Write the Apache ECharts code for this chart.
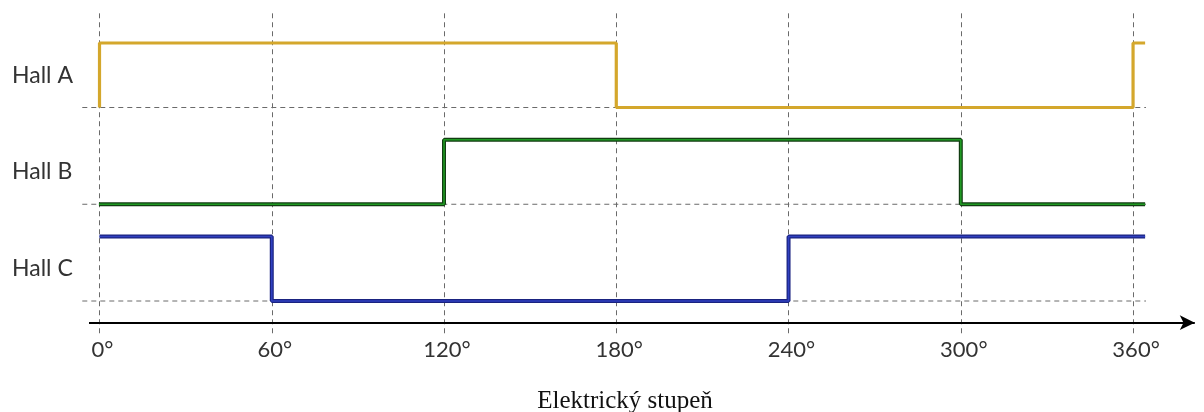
<!DOCTYPE html>
<html>
<head>
<meta charset="utf-8">
<script src="https://cdn.jsdelivr.net/npm/echarts@6/dist/echarts.min.js"></script>
<style>html,body{margin:0;padding:0;background:#fff;}#c{width:1204px;height:412px;}</style>
</head>
<body>
<div id="c"></div>
<script>
// Degree ticks and labels
const angles = [0, 60, 120, 180, 240, 300, 360];
const tickLabels = ['0°', '60°', '120°', '180°', '240°', '300°', '360°'];
const signalNames = ['Hall A', 'Hall B', 'Hall C'];
// logical level of each signal (low, high)
const levelA = [3, 4];
const levelB = [1.5, 2.5];
const levelC = [0, 1];
// step waveforms [degree, level]
const hallA = [[0, 3], [0, 4], [180, 4], [180, 3], [360, 3], [360, 4], [364.2, 4]];
const hallB = [[-0.2, 1.5], [120, 1.5], [120, 2.5], [300, 2.5], [300, 1.5], [364.2, 1.5]];
const hallC = [[0, 1], [60, 1], [60, 0], [240, 0], [240, 1], [364.2, 1]];
const labelLevels = [3.5, 2, 0.5];
const axisLevel = -0.336;
const xTitle = 'Elektrický stupeň';

const grey = '#6a6a6a';
const dashed = {type: [5, 4], color: grey, width: 1};

function refLine(lv) {
  return {
    type: 'line', data: [[-6, lv], [364.5, lv]], symbol: 'none', silent: true,
    lineStyle: dashed, z: 1, animation: false
  };
}

const vLines = angles.map((a, i) => [
  {coord: [a, -0.5], name: tickLabels[i]},
  {coord: [a, 4.46]}
]);

const chart = echarts.init(document.getElementById('c'), null, {renderer: 'canvas'});
chart.setOption({
  animation: false,
  backgroundColor: '#fff',
  title: {
    text: xTitle, left: 620, top: 384, textAlign: 'center',
    textStyle: {fontFamily: 'Liberation Serif', fontSize: 25, fontWeight: 'normal', color: '#111'}
  },
  grid: {left: 70.8, right: 2.04, top: 10.75, bottom: 78.75},
  xAxis: {
    type: 'value', min: -10, max: 384,
    axisLine: {show: false}, axisTick: {show: false}, axisLabel: {show: false}, splitLine: {show: false}
  },
  yAxis: {
    type: 'value', min: -0.5, max: 4.5, interval: 0.25,
    axisLine: {show: false}, axisTick: {show: false}, splitLine: {show: false},
    axisLabel: {
      show: true, align: 'left', margin: 58.8,
      fontFamily: 'Lato', fontSize: 23, color: '#333',
      formatter: function (v) {
        const i = labelLevels.findIndex(l => Math.abs(l - v) < 1e-6);
        return i >= 0 ? signalNames[i] : '';
      }
    }
  },
  series: [
    {
      type: 'line', data: [], symbol: 'none', z: 1,
      markLine: {
        silent: true, symbol: 'none', animation: false,
        lineStyle: dashed,
        label: {
          show: true, position: 'start', formatter: '{b}', distance: 6,
          fontFamily: 'Lato', fontSize: 22, color: '#333', offset: [3, 0]
        },
        data: vLines
      }
    },
    refLine(levelA[0]), refLine(levelB[0]), refLine(levelC[0]),
    {
      type: 'line', data: [], symbol: 'none', z: 2,
      markLine: {
        silent: true, symbol: ['none', 'arrow'], symbolSize: [11, 15], animation: false,
        lineStyle: {type: 'solid', color: '#000', width: 2},
        label: {show: false},
        data: [[{coord: [-3.66, axisLevel]}, {coord: [381.5, axisLevel]}]]
      }
    },
    {type: 'line', name: signalNames[0], data: hallA, symbol: 'none', z: 5,
      lineStyle: {color: '#d4a72c', width: 3.2}},
    {type: 'line', data: hallB, symbol: 'none', z: 5,
      lineStyle: {color: '#123d12', width: 4}},
    {type: 'line', name: signalNames[1], data: hallB, symbol: 'none', z: 6,
      lineStyle: {color: '#1f9a22', width: 1.6}},
    {type: 'line', data: hallC, symbol: 'none', z: 5,
      lineStyle: {color: '#1a2380', width: 4}},
    {type: 'line', name: signalNames[2], data: hallC, symbol: 'none', z: 6,
      lineStyle: {color: '#3040c0', width: 1.6}}
  ]
});
</script>
</body>
</html>
